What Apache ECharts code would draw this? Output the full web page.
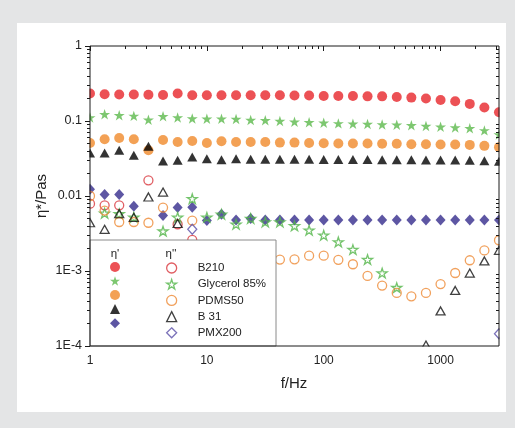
<!DOCTYPE html>
<html>
<head>
<meta charset="utf-8">
<script src="https://cdn.jsdelivr.net/npm/echarts@6/dist/echarts.min.js"></script>
<style>
  html, body { margin: 0; padding: 0; background: #e4e5e6; }
  #chart { width: 515px; height: 428px; }
</style>
</head>
<body>
<div id="chart"></div>
<script>
// Measurement frequencies (Hz), 8 points per decade
const freq = [1, 1.334, 1.778, 2.371, 3.162, 4.217, 5.623, 7.499,
  10, 13.34, 17.78, 23.71, 31.62, 42.17, 56.23, 74.99,
  100, 133.4, 177.8, 237.1, 316.2, 421.7, 562.3, 749.9,
  1000, 1334, 1778, 2371, 3162];

// eta' (filled markers), Pa s
const b210Eta1 = [0.232, 0.227, 0.226, 0.226, 0.224, 0.222, 0.232, 0.220,
  0.221, 0.221, 0.221, 0.220, 0.220, 0.220, 0.219, 0.219,
  0.216, 0.215, 0.215, 0.213, 0.213, 0.209, 0.205, 0.199,
  0.191, 0.183, 0.169, 0.151, 0.131];
const glycerolEta1 = [0.111, 0.123, 0.119, 0.117, 0.104, 0.116, 0.111, 0.108,
  0.107, 0.107, 0.106, 0.103, 0.102, 0.100, 0.098, 0.096,
  0.095, 0.093, 0.092, 0.091, 0.090, 0.089, 0.088, 0.086,
  0.084, 0.082, 0.080, 0.075, 0.066];
const pdmsEta1 = [0.0509, 0.057, 0.0593, 0.057, 0.0407, 0.0558, 0.0525, 0.054,
  0.0509, 0.0536, 0.0525, 0.0525, 0.0525, 0.0515, 0.0515, 0.0509,
  0.0504, 0.050, 0.050, 0.050, 0.0496, 0.0496, 0.049, 0.049,
  0.0486, 0.0486, 0.048, 0.0466, 0.0448];
const b31Eta1 = [0.0374, 0.0374, 0.0407, 0.0349, 0.046, 0.0293, 0.0299, 0.0331,
  0.0315, 0.0305, 0.0315, 0.0309, 0.0309, 0.0309, 0.0308, 0.0308,
  0.0307, 0.0307, 0.0306, 0.0306, 0.0305, 0.0305, 0.0304, 0.0303,
  0.0302, 0.0301, 0.0299, 0.0295, 0.029];
const pmxEta1 = [0.0123, 0.0105, 0.0105, 0.0073, null, 0.0055, 0.0070, 0.0071,
  0.0047, 0.0057, 0.0048, 0.0050, 0.0048, 0.0048, 0.0048, 0.0048,
  0.0048, 0.0048, 0.0048, 0.0048, 0.0048, 0.0048, 0.0048, 0.0048,
  0.0048, 0.0048, 0.0048, 0.0048, 0.0048];

// eta'' (open markers), Pa s
const b210Eta2 = [0.0079, 0.0075, 0.0075, null, 0.0162, null, 0.0042, 0.0026,
  null, null, null, null, null, null, null, null,
  null, null, null, null, null, null, null, null,
  null, null, null, null, null];
const glycerolEta2 = [null, 0.0059, 0.0058, 0.0052, null, 0.0034, 0.0052, 0.0092,
  0.0052, 0.0057, 0.0042, 0.0050, 0.0045, 0.0045, 0.0040, 0.0035,
  0.0030, 0.00244, 0.00193, 0.00142, 0.00094, 0.00060, null, null,
  null, null, null, null, null];
const pdmsEta2 = [0.0100, 0.0064, 0.0045, 0.0045, 0.0044, 0.0070, null, 0.0047,
  null, null, null, null, null, 0.00142, 0.00143, 0.00160,
  0.00160, 0.00141, 0.00123, 0.00086, 0.00064, 0.00051, 0.00046, 0.00051,
  0.00067, 0.00094, 0.00139, 0.00188, 0.00257];
const b31Eta2 = [0.0044, 0.0036, 0.0058, 0.0052, 0.0097, 0.0113, 0.0043, null,
  null, null, null, null, null, null, null, null,
  null, null, null, null, null, null, null, 0.000103,
  0.000293, 0.00055, 0.00094, 0.00136, 0.00189];
const pmxEta2 = [null, null, null, null, null, null, null, 0.0036,
  null, null, null, null, null, null, null, null,
  null, null, null, null, null, null, null, null,
  null, null, null, null, 0.000146];

const sampleNames = ['B210', 'Glycerol 85%', 'PDMS50', 'B 31', 'PMX200'];

// Axis ranges
const xMin = 1, xMax = 3162.28;
const yMin = 1e-4, yMax = 1;

const FONT = '"Liberation Sans", Arial, sans-serif';
const STAR = 'path://M0,-10L2.245,-3.09L9.51,-3.09L3.633,1.18L5.878,8.09L0,3.82L-5.878,8.09L-3.633,1.18L-9.51,-3.09L-2.245,-3.09Z';

const styles = [
  { fill: '#e7262b', open: '#d8343b', symbol: 'circle', size: 10, openSize: 9 },
  { fill: '#5cb94c', open: '#52b548', symbol: STAR, size: 11, openSize: 10 },
  { fill: '#f08a2a', open: '#ee8a35', symbol: 'circle', size: 10, openSize: 9 },
  { fill: '#000000', open: '#111111', symbol: 'triangle', size: [10, 9], openSize: [9, 8] },
  { fill: '#352c8c', open: '#5a4fa8', symbol: 'diamond', size: [10, 11], openSize: [9, 10] }
];

const eta1 = [b210Eta1, glycerolEta1, pdmsEta1, b31Eta1, pmxEta1];
const eta2 = [b210Eta2, glycerolEta2, pdmsEta2, b31Eta2, pmxEta2];

function pairs(vals) {
  const out = [];
  freq.forEach((f, i) => { if (vals[i] != null) out.push([f, vals[i]]); });
  return out;
}

const filledNames = sampleNames.map(n => n + " η'");
const series = [];
sampleNames.forEach((n, k) => {
  const s = styles[k];
  series.push({
    name: filledNames[k], type: 'scatter', xAxisIndex: 0, yAxisIndex: 0,
    data: pairs(eta1[k]), symbol: s.symbol, symbolSize: s.size, symbolKeepAspect: true,
    itemStyle: { color: s.fill, borderColor: s.fill, borderWidth: 0 },
    emphasis: { disabled: true }, clip: true, z: 2
  });
});
sampleNames.forEach((n, k) => {
  const s = styles[k];
  series.push({
    name: n, type: 'scatter', xAxisIndex: 0, yAxisIndex: 0,
    data: pairs(eta2[k]), symbol: s.symbol, symbolSize: s.openSize, symbolKeepAspect: true,
    itemStyle: { color: 'rgba(255,255,255,0)', borderColor: s.open, borderWidth: 1.3 },
    emphasis: { disabled: true }, clip: true, z: 2
  });
});

// Tick positions in decades (log10 units) for the tick-only axes
const xLogMax = Math.log10(xMax);
const xMajor = [0, 1, 2, 3];
const xMinor = [];
for (let d = 0; d < 4; d++) for (let m = 2; m <= 9; m++) {
  const v = d + Math.log10(m);
  if (v < xLogMax) xMinor.push(v);
}
const yMajor = [-4, -3, -2, -1, 0];
const yMinor = [];
for (let d = -4; d < 0; d++) for (let m = 2; m <= 9; m++) yMinor.push(d + Math.log10(m));

function tickAxis(pos, min, max, values, len, inside) {
  return {
    type: 'value', position: pos, min: min, max: max, z: 8,
    axisLine: { show: false }, axisLabel: { show: false }, splitLine: { show: false },
    axisTick: { show: true, customValues: values, length: len, inside: inside,
      lineStyle: { color: '#1a1a1a', width: 1 } }
  };
}

function xLabel(v) {
  const e = Math.log10(v);
  if (Math.abs(e - Math.round(e)) > 1e-6) return '';
  return String(Math.round(Math.pow(10, e)));
}
function yLabel(v) {
  const e = Math.round(Math.log10(v));
  return e >= -2 ? String(Number(Math.pow(10, e).toFixed(2))) : '1E' + e;
}

// White strips just outside the frame so markers sitting on it look cut by the frame
const edgeMasks = [
  { x: 83.5, y: 36, width: 6, height: 320 },
  { x: 499.5, y: 36, width: 6.5, height: 320 },
  { x: 83.5, y: 346.5, width: 422, height: 6 }
].map(r => ({ type: 'rect', z: 3, silent: true, shape: r, style: { fill: '#ffffff' } }));

const chart = echarts.init(document.getElementById('chart'), null, { renderer: 'canvas' });
chart.setOption({
  backgroundColor: '#e4e5e6',
  animation: false,
  textStyle: { fontFamily: FONT },
  grid: { left: 90, right: 16, top: 46, bottom: 82, show: true, z: 7,
    backgroundColor: 'rgba(255,255,255,0)', borderColor: '#1a1a1a', borderWidth: 1 },
  xAxis: [
    { type: 'log', logBase: 10, min: xMin, max: xMax, position: 'bottom', z: 8,
      axisLine: { show: false }, axisTick: { show: false }, splitLine: { show: false },
      axisLabel: { formatter: xLabel, margin: 9, fontSize: 12, color: '#222', fontFamily: FONT } },
    tickAxis('bottom', 0, xLogMax, xMajor, 5, false),
    tickAxis('bottom', 0, xLogMax, xMinor, 3, false),
    tickAxis('top', 0, xLogMax, xMajor, 5, true),
    tickAxis('top', 0, xLogMax, xMinor, 3, true)
  ],
  yAxis: [
    { type: 'log', logBase: 10, min: yMin, max: yMax, position: 'left', z: 8,
      axisLine: { show: false }, axisTick: { show: false }, splitLine: { show: false },
      axisLabel: { formatter: yLabel, margin: 8, fontSize: 12.5, color: '#222', fontFamily: FONT } },
    tickAxis('left', -4, 0, yMajor, 5, false),
    tickAxis('left', -4, 0, yMinor, 3, false),
    tickAxis('right', -4, 0, yMajor, 5, true),
    tickAxis('right', -4, 0, yMinor, 3, true)
  ],
  legend: [
    { data: filledNames, orient: 'vertical', left: 110, top: 262,
      itemWidth: 10, itemHeight: 10, itemGap: 4.2, selectedMode: false,
      formatter: () => '', itemStyle: { borderWidth: 0 },
      textStyle: { fontSize: 11.5, lineHeight: 10 }, padding: 0, z: 6 },
    { data: sampleNames, orient: 'vertical', left: 166, top: 262,
      itemWidth: 10, itemHeight: 10, itemGap: 4.2, selectedMode: false,
      itemStyle: { borderWidth: 1.3 },
      textStyle: { fontSize: 11.5, lineHeight: 10, color: '#222', fontFamily: FONT,
        padding: [0, 0, 0, 16] },
      padding: 0, z: 6 }
  ],
  graphic: [
    { type: 'rect', z: -10, silent: true,
      shape: { x: 17, y: 23, width: 489, height: 389 },
      style: { fill: '#ffffff' } },
    ...edgeMasks,
    { type: 'rect', z: 5, silent: true,
      shape: { x: 90, y: 240, width: 186, height: 106 },
      style: { fill: '#ffffff', stroke: '#8a8a8a', lineWidth: 1 } },
    { type: 'text', z: 6, silent: true, x: 115, y: 254,
      style: { text: "η'", font: '11.5px ' + FONT, fill: '#222', align: 'center', verticalAlign: 'middle' } },
    { type: 'text', z: 6, silent: true, x: 171, y: 254,
      style: { text: "η''", font: '11.5px ' + FONT, fill: '#222', align: 'center', verticalAlign: 'middle' } },
    { type: 'text', z: 6, silent: true, x: 294, y: 384,
      style: { text: 'f/Hz', font: '15px ' + FONT, fill: '#222', align: 'center', verticalAlign: 'middle' } },
    { type: 'text', z: 6, silent: true, x: 42, y: 196, rotation: Math.PI / 2,
      style: { text: 'η*/Pas', font: '15px ' + FONT, fill: '#222', align: 'center', verticalAlign: 'middle' } }
  ],
  series: series
});
</script>
</body>
</html>
